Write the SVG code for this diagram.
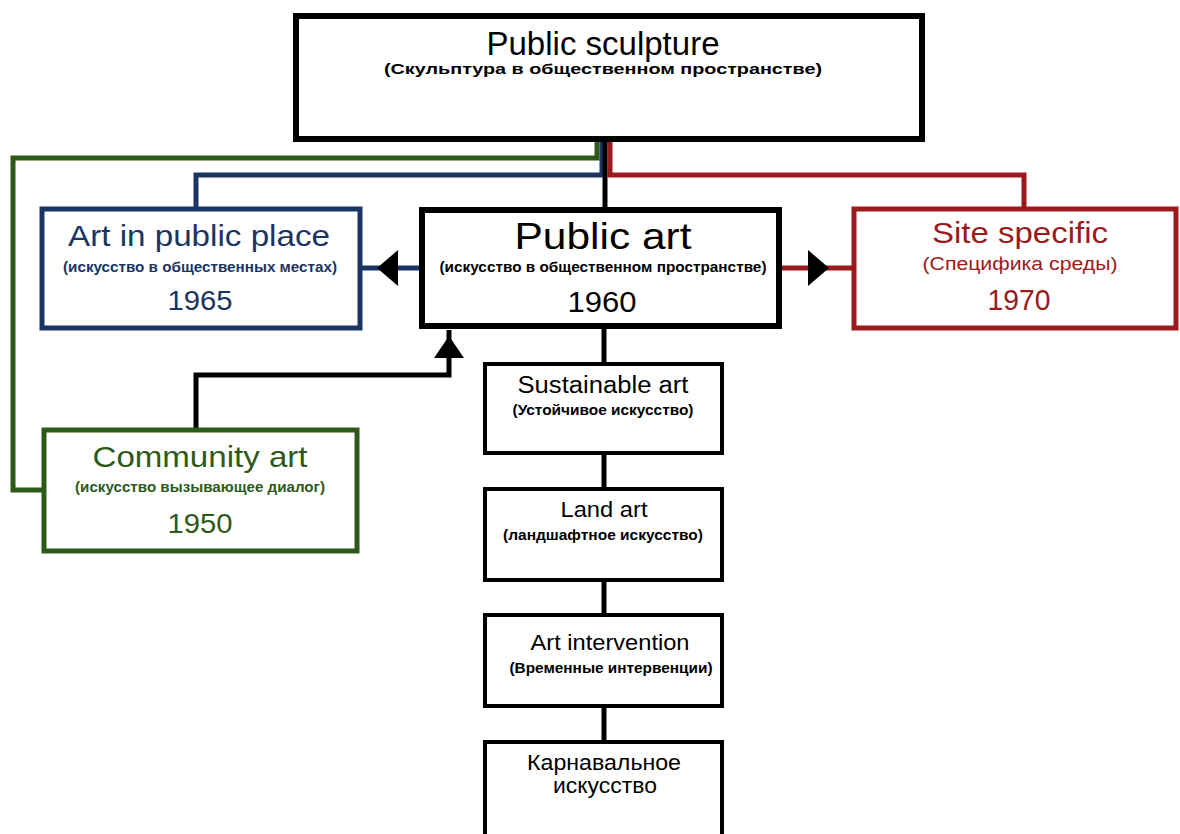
<svg xmlns="http://www.w3.org/2000/svg" width="1180" height="834" viewBox="0 0 1180 834">
<style>
text{font-family:"Liberation Sans",Arial,sans-serif;text-anchor:middle}
.box{fill:#fff}
.blk{stroke:#000}
.nav{stroke:#1a3563;fill:#1a3563}
.red{stroke:#9c1a1c;fill:#9c1a1c}
.grn{stroke:#2e5a19;fill:#2e5a19}
.sub{font-weight:bold;font-size:14px}
.c{fill:none;stroke-width:5}
</style>
<rect width="1180" height="834" fill="#fff"/>
<g id="connectors">
<polyline class="c grn" style="fill:none" points="597,141 597,158 13,158 13,490 42,490"/>
<polyline class="c nav" style="fill:none" points="602,141 602,175 196,175 196,207"/>
<polyline class="c red" style="fill:none" points="610,141 610,175 1024,175 1024,207"/>
<line class="c blk" x1="605" y1="141" x2="605" y2="207"/>
<line class="c nav" x1="420" y1="268" x2="362" y2="268"/>
<polygon points="377,268 398,250 398,286" fill="#000"/>
<line class="c red" x1="782" y1="268" x2="852" y2="268"/>
<polygon points="829,268 808,250 808,286" fill="#000"/>
<polyline class="c blk" points="196,428 196,375 449,375 449,330"/>
<polygon points="449,336 434,358 464,358" fill="#000"/>
<line class="c blk" x1="604" y1="328" x2="604" y2="362"/>
<line class="c blk" x1="604" y1="455" x2="604" y2="487"/>
<line class="c blk" x1="604" y1="582" x2="604" y2="613"/>
<line class="c blk" x1="604" y1="708" x2="604" y2="740"/>
</g>
<g id="public-sculpture">
<rect class="box blk" x="296" y="16" width="626" height="123" stroke-width="6"/>
<text x="603" y="55" font-size="34" textLength="233" lengthAdjust="spacingAndGlyphs">Public sculpture</text>
<text x="603" y="74" class="sub" font-size="17" textLength="438" lengthAdjust="spacingAndGlyphs">(Скульптура в общественном пространстве)</text>
</g>
<g id="art-in-public-place">
<rect class="box nav" style="fill:#fff" x="42" y="209" width="318" height="119" stroke-width="5"/>
<text x="199" y="246" font-size="30" fill="#1a3563" textLength="262" lengthAdjust="spacingAndGlyphs">Art in public place</text>
<text x="200" y="272" class="sub" fill="#1a3563" textLength="274" lengthAdjust="spacingAndGlyphs">(искусство в общественных местах)</text>
<text x="200" y="310" font-size="27" fill="#1a3563" textLength="65" lengthAdjust="spacingAndGlyphs">1965</text>
</g>
<g id="public-art">
<rect class="box blk" x="422" y="210" width="357" height="116" stroke-width="6"/>
<text x="603" y="249" font-size="37" textLength="177" lengthAdjust="spacingAndGlyphs">Public art</text>
<text x="603" y="272" class="sub" font-size="15" textLength="327" lengthAdjust="spacingAndGlyphs">(искусство в общественном пространстве)</text>
<text x="602" y="312" font-size="29" textLength="69" lengthAdjust="spacingAndGlyphs">1960</text>
</g>
<g id="site-specific">
<rect class="box red" style="fill:#fff" x="854" y="209" width="322" height="119" stroke-width="5"/>
<text x="1020" y="243" font-size="30" fill="#9c1a1c" textLength="176" lengthAdjust="spacingAndGlyphs">Site specific</text>
<text x="1020" y="270" font-size="18" fill="#9c1a1c" textLength="195" lengthAdjust="spacingAndGlyphs">(Специфика среды)</text>
<text x="1019" y="310" font-size="30" fill="#9c1a1c" textLength="63" lengthAdjust="spacingAndGlyphs">1970</text>
</g>
<g id="community-art">
<rect class="box grn" style="fill:#fff" x="44" y="430" width="313" height="121" stroke-width="5"/>
<text x="200" y="467" font-size="29" fill="#2e5a19" textLength="215" lengthAdjust="spacingAndGlyphs">Community art</text>
<text x="200" y="492" class="sub" fill="#2e5a19" textLength="250" lengthAdjust="spacingAndGlyphs">(искусство вызывающее диалог)</text>
<text x="200" y="533" font-size="28" fill="#2e5a19" textLength="65" lengthAdjust="spacingAndGlyphs">1950</text>
</g>
<g id="sustainable-art">
<rect class="box blk" x="485" y="364" width="237" height="89" stroke-width="4"/>
<text x="603" y="393" font-size="23" textLength="171" lengthAdjust="spacingAndGlyphs">Sustainable art</text>
<text x="603" y="415" class="sub" font-size="13" textLength="181" lengthAdjust="spacingAndGlyphs">(Устойчивое искусство)</text>
</g>
<g id="land-art">
<rect class="box blk" x="485" y="489" width="237" height="91" stroke-width="4"/>
<text x="604" y="517" font-size="22" textLength="87" lengthAdjust="spacingAndGlyphs">Land art</text>
<text x="603" y="540" class="sub" font-size="13" textLength="200" lengthAdjust="spacingAndGlyphs">(ландшафтное искусство)</text>
</g>
<g id="art-intervention">
<rect class="box blk" x="485" y="615" width="237" height="91" stroke-width="4"/>
<text x="610" y="650" font-size="22" textLength="159" lengthAdjust="spacingAndGlyphs">Art intervention</text>
<text x="611" y="673" class="sub" font-size="13" textLength="203" lengthAdjust="spacingAndGlyphs">(Временные интервенции)</text>
</g>
<g id="carnival-art">
<rect class="box blk" x="485" y="742" width="237" height="110" stroke-width="4"/>
<text x="604" y="770" font-size="22" textLength="154" lengthAdjust="spacingAndGlyphs">Карнавальное</text>
<text x="605" y="793" font-size="22" textLength="104" lengthAdjust="spacingAndGlyphs">искусство</text>
</g>
</svg>
